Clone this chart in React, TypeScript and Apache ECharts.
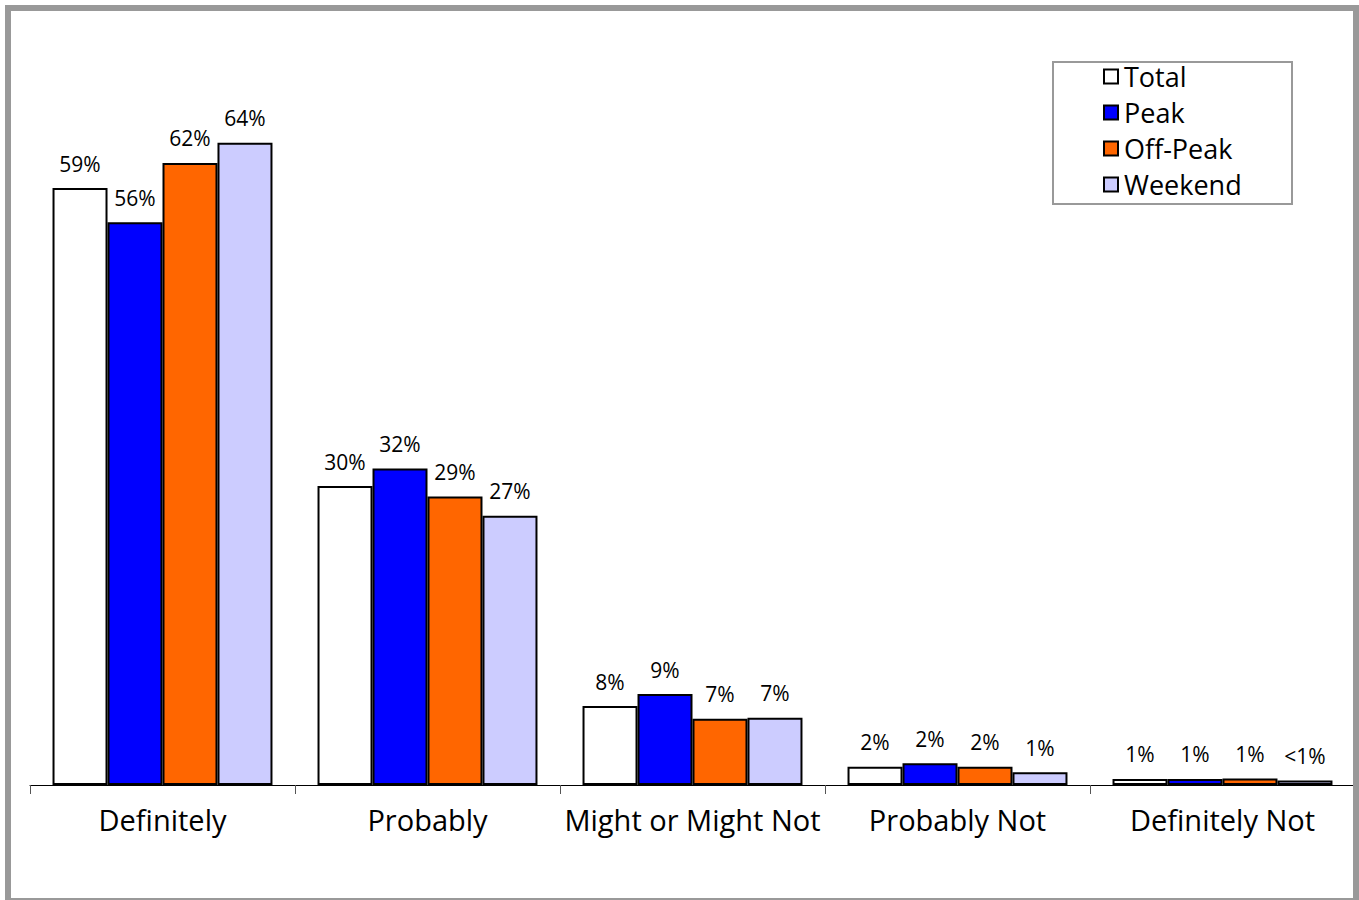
import React, { useEffect, useRef } from "react";
import * as echarts from "echarts";

const categories = ["Definitely", "Probably", "Might or Might Not", "Probably Not", "Definitely Not"];
const seriesNames = ["Total", "Peak", "Off-Peak", "Weekend"];
const totalValues = [59.4, 29.75, 7.86, 1.82, 0.6];
const peakValues = [56.0, 31.5, 9.05, 2.16, 0.6];
const offPeakValues = [61.9, 28.7, 6.6, 1.82, 0.65];
const weekendValues = [63.9, 26.8, 6.7, 1.26, 0.45];
const totalLabels = ["59%", "30%", "8%", "2%", "1%"];
const peakLabels = ["56%", "32%", "9%", "2%", "1%"];
const offPeakLabels = ["62%", "29%", "7%", "2%", "1%"];
const weekendLabels = ["64%", "27%", "7%", "1%", "<1%"];
const colors = ["#ffffff", "#0000ff", "#ff6600", "#ccccff"];

const FONT = "'Open Sans', 'DejaVu Sans', sans-serif";

export default function App() {
  const ref = useRef<HTMLDivElement>(null);
  useEffect(() => {
    if (!ref.current) return;
    const chart = echarts.init(ref.current, null, { renderer: "svg" });
    const values = [totalValues, peakValues, offPeakValues, weekendValues];
    const labels = [totalLabels, peakLabels, offPeakLabels, weekendLabels];
    chart.setOption({
      animation: false,
      backgroundColor: "#ffffff",
      graphic: [
        {
          type: "rect",
          shape: { x: 8, y: 8, width: 1348, height: 893 },
          style: { fill: "none", stroke: "#999999", lineWidth: 6 },
          silent: true,
          z: 100,
        },
        {
          type: "rect",
          shape: { x: 1053, y: 62, width: 239, height: 142 },
          style: { fill: "#ffffff", stroke: "#999999", lineWidth: 2 },
          silent: true,
          z: 0,
        },
      ],
      legend: {
        orient: "vertical",
        left: 1103,
        top: 61,
        itemWidth: 14,
        itemHeight: 14,
        itemGap: 9,
        padding: [2, 0, 0, 0],
        icon: "rect",
        z: 10,
        textStyle: { fontFamily: FONT, fontSize: 27, color: "#000", lineHeight: 27, padding: [0, 0, 0, 1] },
        data: seriesNames,
      },
      grid: { left: 30, right: 4, top: 81.5, bottom: 115 },
      xAxis: {
        type: "category",
        data: categories,
        axisLine: { show: true, lineStyle: { color: "#000", width: 1 } },
        axisTick: { show: true, length: 9, lineStyle: { color: "#555" } },
        axisLabel: { interval: 0, fontFamily: FONT, fontSize: 29, color: "#000", margin: 20 },
      },
      yAxis: {
        type: "value",
        min: 0,
        max: 70,
        show: false,
        splitLine: { show: false },
      },
      series: seriesNames.map((name, i) => ({
        name,
        type: "bar",
        data: values[i],
        barGap: "0%",
        barCategoryGap: "17%",
        itemStyle: { color: colors[i], borderColor: "#000", borderWidth: 2 },
        label: {
          show: true,
          position: "top",
          distance: 14,
          fontFamily: FONT,
          fontSize: 21,
          color: "#000",
          formatter: (p: any) => labels[i][p.dataIndex],
        },
      })),
    });
    return () => chart.dispose();
  }, []);
  return (
    <div
      ref={ref}
      style={{ position: "absolute", left: 0, top: 0, width: 1359, height: 900 }}
    />
  );
}
